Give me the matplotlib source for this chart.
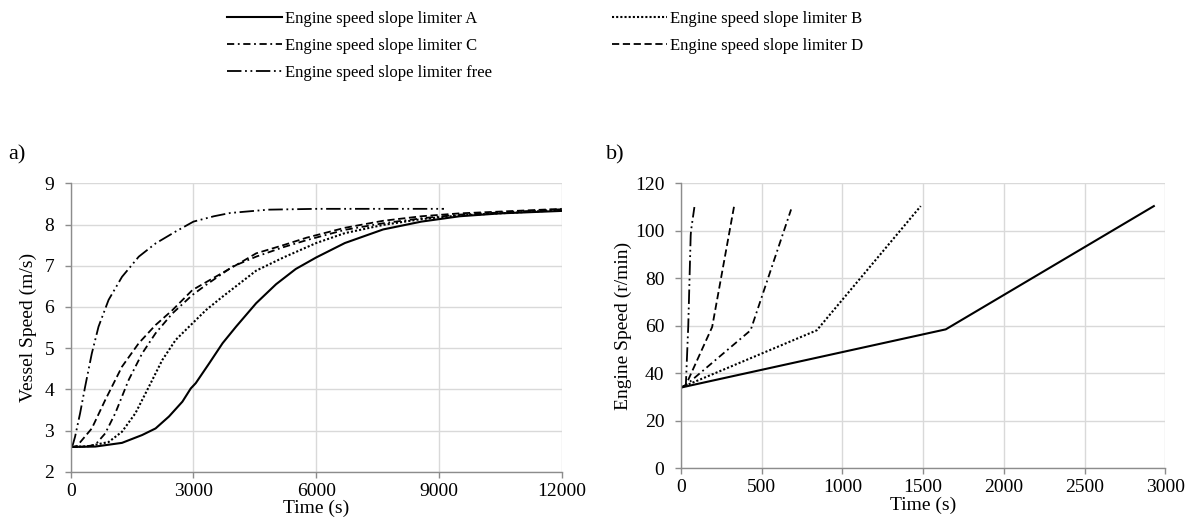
import matplotlib
matplotlib.use("Agg")
import matplotlib.pyplot as plt

plt.rcParams['font.family'] = ['Liberation Serif', 'DejaVu Serif']

# ---- data: panel a) vessel speed (m/s) vs time (s) ----
tA = [0, 600, 1254, 1746, 2074, 2402, 2730, 2934, 3057, 3385, 3713, 4041, 4533, 5019, 5500, 6000, 6700, 7636, 8570, 9505, 10500, 12000]
vA = [2.6, 2.61, 2.70, 2.89, 3.05, 3.34, 3.70, 4.02, 4.15, 4.63, 5.12, 5.52, 6.09, 6.55, 6.92, 7.2, 7.55, 7.88, 8.07, 8.2, 8.27, 8.33]
tB = [0, 434, 926, 1254, 1582, 1910, 2238, 2566, 2893, 3303, 3713, 4533, 5200, 6000, 6700, 7636, 8570, 9500, 12000]
vB = [2.6, 2.62, 2.72, 2.97, 3.42, 4.06, 4.71, 5.2, 5.52, 5.92, 6.25, 6.88, 7.2, 7.55, 7.79, 7.99, 8.13, 8.22, 8.35]
tC = [0, 350, 598, 844, 1090, 1418, 1746, 2074, 2484, 2975, 3303, 3959, 4533, 5200, 5766, 6700, 7636, 8570, 9500, 12000]
vC = [2.6, 2.61, 2.65, 2.93, 3.42, 4.23, 4.87, 5.36, 5.84, 6.29, 6.53, 6.98, 7.22, 7.45, 7.62, 7.87, 8.03, 8.15, 8.24, 8.37]
tD = [0, 150, 270, 516, 844, 1254, 1664, 2074, 2484, 2975, 3467, 4123, 4533, 5200, 5766, 6700, 7636, 8570, 9500, 12000]
vD = [2.6, 2.62, 2.76, 3.05, 3.74, 4.55, 5.12, 5.56, 5.92, 6.41, 6.69, 7.06, 7.3, 7.5, 7.68, 7.92, 8.09, 8.2, 8.27, 8.38]
tF = [0, 50, 107, 230, 352, 516, 680, 926, 1254, 1664, 2074, 2566, 3000, 3500, 3900, 4830, 6000, 9123]
vF = [2.6, 2.65, 2.85, 3.42, 4.06, 4.87, 5.52, 6.17, 6.73, 7.22, 7.54, 7.83, 8.07, 8.2, 8.28, 8.36, 8.38, 8.38]

# ---- data: panel b) engine speed (r/min) vs time (s) ----
eA_t = [0, 1640, 2929]
eA_n = [34, 58.5, 110.4]
eB_t = [0, 841, 1485]
eB_n = [34, 58.1, 110.4]
eC_t = [0, 30, 431, 682]
eC_n = [34, 35, 58.1, 109]
eD_t = [0, 30, 193, 329]
eD_n = [34, 35, 59.5, 110.4]
eF_t = [0, 30, 45, 60, 62, 83]
eF_n = [34, 35, 60, 98, 100, 110]

labels = ["Engine speed slope limiter A", "Engine speed slope limiter B",
          "Engine speed slope limiter C", "Engine speed slope limiter D",
          "Engine speed slope limiter free"]

styles = {
    'A': dict(ls='-', lw=1.5),
    'B': dict(ls=(0, (1, 1)), lw=1.5),
    'C': dict(ls=(0, (4, 2, 1, 2)), lw=1.3),
    'D': dict(ls=(0, (4, 2)), lw=1.3),
    'F': dict(ls=(0, (8, 2, 1, 2, 1, 2)), lw=1.3),
}

fig = plt.figure(figsize=(11.93, 5.26), dpi=100)
ax1 = fig.add_axes([0.05926, 0.10323, 0.41157, 0.54829])
ax2 = fig.add_axes([0.57083, 0.10970, 0.40595, 0.54183])

grid_c = '#d9d9d9'
axis_c = '#8c8c8c'
fs = 14

def style_ax(ax):
    ax.grid(True, color=grid_c, lw=1.0)
    ax.set_axisbelow(True)
    for s in ['top', 'right']:
        ax.spines[s].set_visible(False)
    for s in ['left', 'bottom']:
        ax.spines[s].set_color(axis_c)
        ax.spines[s].set_linewidth(1.0)
    ax.tick_params(axis='both', colors=axis_c, labelcolor='black', labelsize=fs, length=4, width=1)
    ax.tick_params(axis='y', pad=8)
    ax.tick_params(axis='x', pad=4)

series_a = [('A', tA, vA), ('B', tB, vB), ('C', tC, vC), ('D', tD, vD), ('F', tF, vF)]
handles = {}
for key, t, v in series_a:
    h, = ax1.plot(t, v, color='black', **styles[key])
    handles[key] = h
ax1.set_xlim(0, 12000)
ax1.set_ylim(2, 9)
ax1.set_xticks([0, 3000, 6000, 9000, 12000])
ax1.set_yticks(range(2, 10))
ax1.set_xlabel("Time (s)", fontsize=fs, labelpad=0)
ax1.set_ylabel("Vessel Speed (m/s)", fontsize=fs, labelpad=5)
style_ax(ax1)

series_b = [('A', eA_t, eA_n), ('B', eB_t, eB_n), ('C', eC_t, eC_n), ('D', eD_t, eD_n), ('F', eF_t, eF_n)]
for key, t, n in series_b:
    ax2.plot(t, n, color='black', **styles[key])
ax2.set_xlim(0, 3000)
ax2.set_ylim(0, 120)
ax2.set_xticks(range(0, 3001, 500))
ax2.set_yticks(range(0, 121, 20))
ax2.set_xlabel("Time (s)", fontsize=fs, labelpad=0)
ax2.set_ylabel("Engine Speed (r/min)", fontsize=fs, labelpad=2)
style_ax(ax2)

fig.text(0.007, 0.705, "a)", fontsize=16, ha='left', va='center')
fig.text(0.508, 0.705, "b)", fontsize=16, ha='left', va='center')

order = ['A', 'C', 'F', 'B', 'D']
lab_map = dict(zip(['A', 'B', 'C', 'D', 'F'], labels))
fig.legend([handles[k] for k in order], [lab_map[k] for k in order],
           ncol=2, loc='upper left', bbox_to_anchor=(227 / 1193, 0.979), frameon=False,
           fontsize=12, handlelength=3.3, handletextpad=0.18, columnspacing=7.2,
           labelspacing=0.66, borderpad=0, borderaxespad=0)

fig.savefig("out.png", dpi=100)
